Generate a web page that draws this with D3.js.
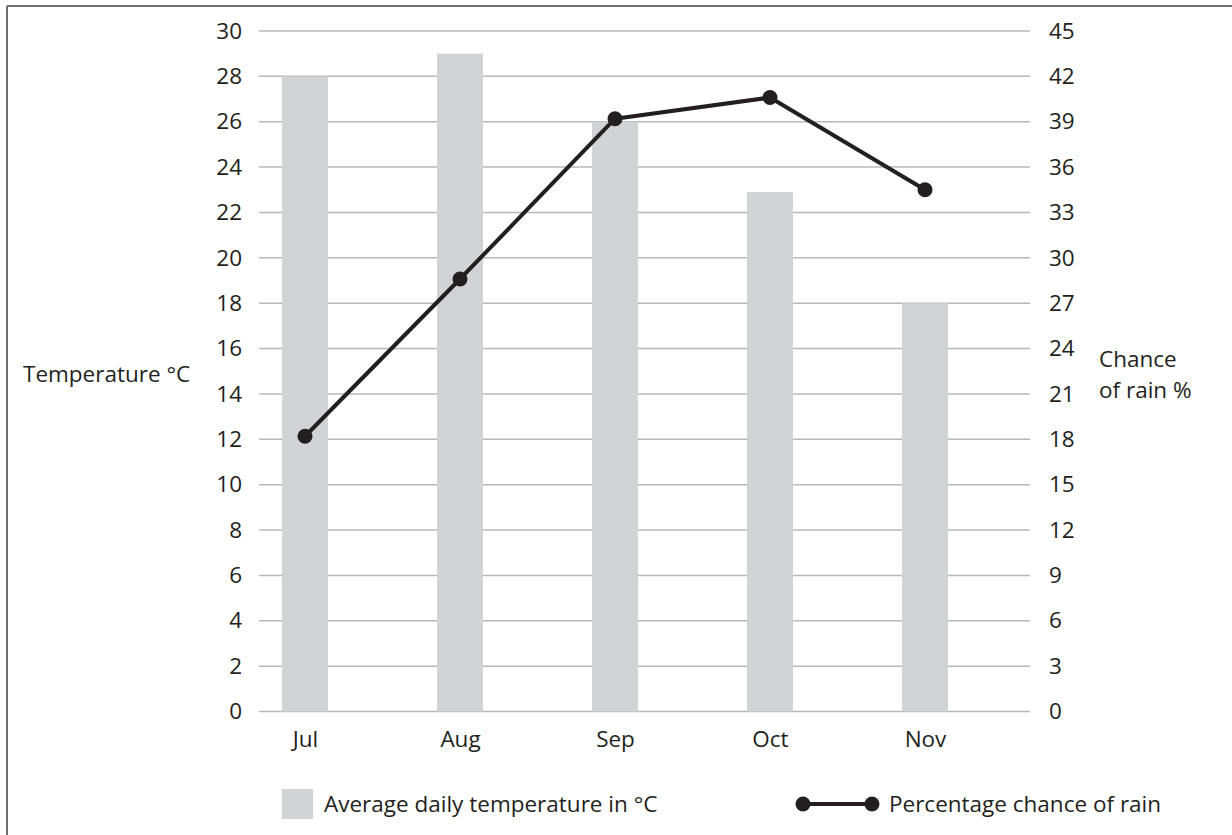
<!DOCTYPE html>
<html>
<head>
<meta charset="utf-8">
<script src="https://cdn.jsdelivr.net/npm/d3@7"></script>
<style>
  html, body { margin: 0; padding: 0; background: #fff; }
  svg { display: block; }
  text { font-family: "Open Sans", sans-serif; fill: #231f20; }
</style>
</head>
<body>
<svg id="chart" width="1232" height="835"></svg>
<script>
const months = ["Jul", "Aug", "Sep", "Oct", "Nov"];
const temperature = [28, 29, 26, 22.9, 18];
const rainChance = [18.2, 28.6, 39.2, 40.6, 34.5];
const leftTicks = [0, 2, 4, 6, 8, 10, 12, 14, 16, 18, 20, 22, 24, 26, 28, 30];
const rightTicks = [0, 3, 6, 9, 12, 15, 18, 21, 24, 27, 30, 33, 36, 39, 42, 45];

const svg = d3.select("#chart");
const fs = 22.5;

// frame (top and left edges)
svg.append("line").attr("x1", 7).attr("x2", 1232).attr("y1", 6).attr("y2", 6)
  .attr("stroke", "#6d6e71").attr("stroke-width", 2);
svg.append("line").attr("x1", 7).attr("x2", 7).attr("y1", 6).attr("y2", 835)
  .attr("stroke", "#6d6e71").attr("stroke-width", 2);

const gridX0 = 259, gridX1 = 1030;
const x = d3.scalePoint().domain(months).range([305, 925]);
const yL = d3.scaleLinear().domain([0, 30]).range([711.5, 31]);
const yR = d3.scaleLinear().domain([0, 45]).range([711.5, 31]);

// gridlines
svg.append("g").selectAll("line").data(leftTicks).join("line")
  .attr("x1", gridX0).attr("x2", gridX1)
  .attr("y1", d => yL(d)).attr("y2", d => yL(d))
  .attr("stroke", "#b7b8ba").attr("stroke-width", 1.5);

// bars
const barW = 46;
svg.append("g").selectAll("rect").data(months).join("rect")
  .attr("x", d => x(d) - barW / 2)
  .attr("width", barW)
  .attr("y", (d, i) => yL(temperature[i]))
  .attr("height", (d, i) => yL(0) - yL(temperature[i]))
  .attr("fill", "#d1d3d4");

// left axis
const axL = svg.append("g").attr("transform", `translate(${gridX0},0)`)
  .call(d3.axisLeft(yL).tickValues(leftTicks).tickSize(0).tickPadding(17));
axL.select(".domain").remove();
axL.selectAll("text").style("font-size", fs + "px").attr("fill", "#231f20");

// right axis
const axR = svg.append("g").attr("transform", `translate(${gridX1},0)`)
  .call(d3.axisRight(yR).tickValues(rightTicks).tickSize(0).tickPadding(19));
axR.select(".domain").remove();
axR.selectAll("text").style("font-size", fs + "px").attr("fill", "#231f20");

// x axis labels
const axX = svg.append("g").attr("transform", `translate(0,${yL(0)})`)
  .call(d3.axisBottom(x).tickSize(0).tickPadding(20));
axX.select(".domain").remove();
axX.selectAll("text").style("font-size", fs + "px").attr("fill", "#231f20");

// line
const line = d3.line().x((d, i) => x(months[i])).y(d => yR(d));
svg.append("path").datum(rainChance).attr("d", line)
  .attr("fill", "none").attr("stroke", "#231f20").attr("stroke-width", 4)
  .attr("stroke-linejoin", "round");
svg.append("g").selectAll("circle").data(rainChance).join("circle")
  .attr("cx", (d, i) => x(months[i])).attr("cy", d => yR(d)).attr("r", 7.5)
  .attr("fill", "#231f20");

// axis titles
svg.append("text").attr("x", 23).attr("y", 382).style("font-size", fs + "px").text("Temperature °C");
svg.append("text").attr("x", 1099).attr("y", 367).style("font-size", fs + "px").text("Chance");
svg.append("text").attr("x", 1099).attr("y", 398).style("font-size", fs + "px").text("of rain %");

// legend
svg.append("rect").attr("x", 282).attr("y", 789).attr("width", 31).attr("height", 30).attr("fill", "#d1d3d4");
svg.append("text").attr("x", 324).attr("y", 812).style("font-size", fs + "px").text("Average daily temperature in °C");
svg.append("line").attr("x1", 803).attr("x2", 873).attr("y1", 804).attr("y2", 804)
  .attr("stroke", "#231f20").attr("stroke-width", 4);
svg.append("circle").attr("cx", 803).attr("cy", 804).attr("r", 7.5).attr("fill", "#231f20");
svg.append("circle").attr("cx", 872).attr("cy", 804).attr("r", 7.5).attr("fill", "#231f20");
svg.append("text").attr("x", 889).attr("y", 812).style("font-size", fs + "px").text("Percentage chance of rain");
</script>
</body>
</html>
